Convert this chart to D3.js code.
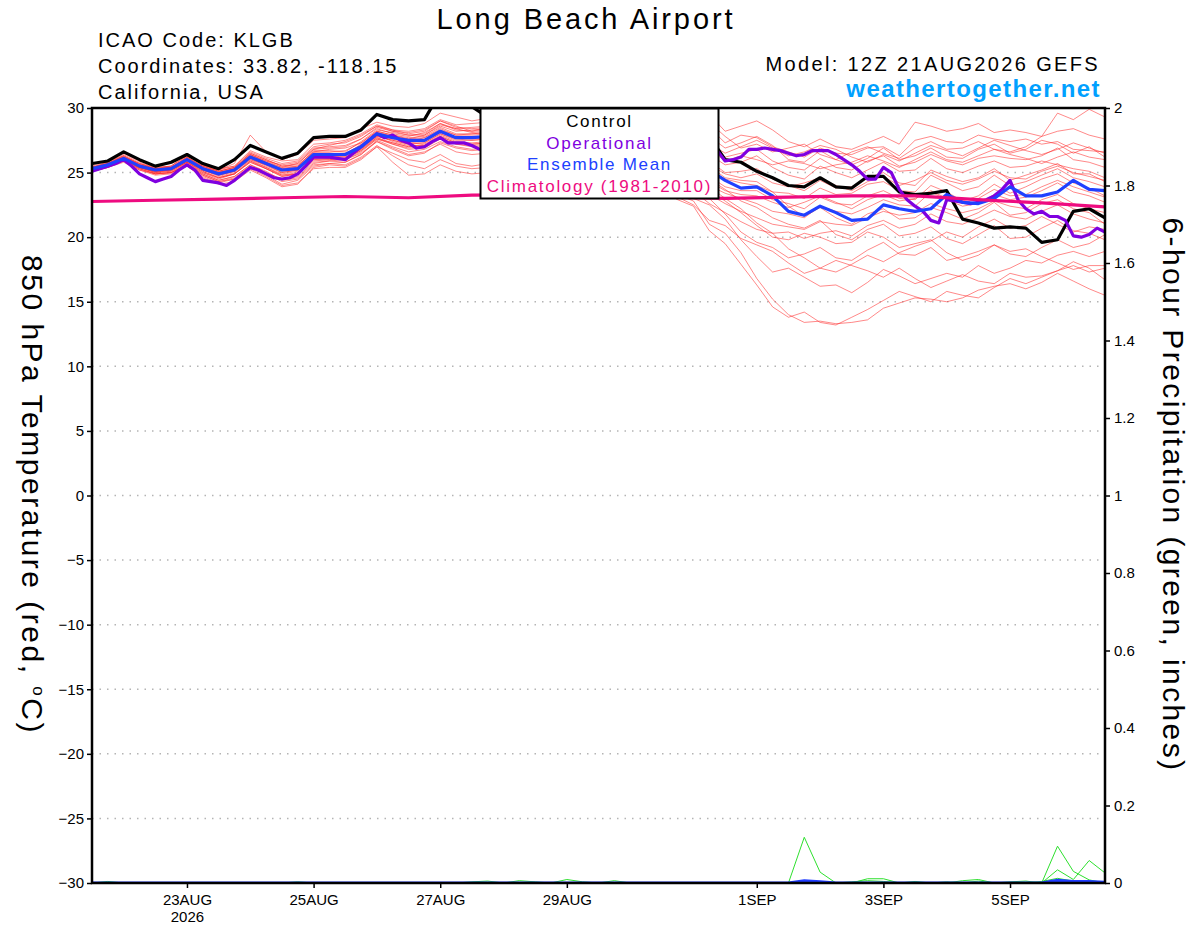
<!DOCTYPE html>
<html>
<head>
<meta charset="utf-8">
<script src="https://d3js.org/d3.v7.min.js"></script>
<style>
  body { margin: 0; background: #fff; }
  svg text { font-family: "Liberation Sans", Arial, Helvetica, sans-serif; }
</style>
</head>
<body>
<svg id="chart" width="1200" height="927"></svg>
<script>
// run start 12Z 21AUG2026, 6-hourly steps out to 384h
var runStart = Date.UTC(2026, 7, 21, 12);
var tickDays = [[2026, 7, 23], [2026, 7, 25], [2026, 7, 27], [2026, 7, 29], [2026, 8, 1], [2026, 8, 3], [2026, 8, 5]];
var tempTicks = [-30, -25, -20, -15, -10, -5, 0, 5, 10, 15, 20, 25, 30];
var precipTicks = [0, 0.2, 0.4, 0.6, 0.8, 1, 1.2, 1.4, 1.6, 1.8, 2];

// control run (black), 6-hourly
var control = [25.7,25.9,26.6,26.0,25.5,25.8,26.4,25.7,25.3,26.0,27.1,26.6,26.1,26.5,27.7,27.8,27.8,28.3,29.5,29.1,29.0,29.1,31.2,31.0,30.1,
  29.3,29.0,28.8,28.5,28.9,28.6,28.3,28.0,28.4,28.1,27.8,27.6,27.9,27.9,
  27.8,26.0,25.8,25.1,24.6,24.0,23.9,24.6,23.9,23.8,24.7,24.7,23.5,23.3,23.4,23.6,21.4,21.1,20.7,20.8,20.7,19.6,19.8,22.0,22.2,21.5];

// ensemble mean (blue), 6-hourly
var ensMean = [25.3,25.6,26.1,25.5,25.2,25.3,26.0,25.3,24.9,25.2,26.2,25.7,25.2,25.3,26.4,26.4,26.4,27.0,28.0,27.7,27.5,27.5,28.2,27.7,27.7,
  27.8,27.9,27.5,27.4,27.8,27.6,27.3,27.2,27.4,26.9,26.5,26.3,26.0,25.6,
  25.2,24.4,23.8,23.9,23.2,22.0,21.7,22.4,21.9,21.3,21.4,22.5,22.2,22.0,22.2,23.3,22.7,22.6,23.0,23.9,23.2,23.2,23.5,24.4,23.7,23.6];

// operational run (purple), 3-hourly
var operational = [25.1,25.3,25.5,25.7,26.0,25.5,24.9,24.6,24.3,24.5,24.7,25.2,25.6,25.2,24.4,24.3,24.2,24.0,24.4,24.9,
  25.4,25.2,24.9,24.6,24.5,24.6,24.9,25.5,26.2,26.2,26.2,26.1,26.0,26.5,27.0,27.5,28.0,27.7,27.9,27.5,
  27.3,26.9,27.0,27.4,27.7,27.3,27.3,27.3,27.1,26.8,
  26.6,26.9,27.2,27.5,27.3,27.0,26.8,27.1,27.4,27.6,27.3,27.0,26.9,27.2,27.5,27.3,27.0,26.8,26.9,27.2,
  27.4,27.1,26.8,26.7,26.9,27.1,27.0,26.8,26.7,26.7,
  25.9,26.0,26.2,26.8,26.8,26.9,26.8,26.7,26.5,26.3,26.4,26.7,26.7,26.7,26.4,26.0,25.6,25.1,24.5,24.5,
  25.4,25.0,23.7,22.9,22.4,
  22.0,21.3,21.1,22.9,22.8,22.7,22.6,22.7,22.9,23.2,23.7,24.4,22.9,22.2,21.8,22.0,21.6,21.6,21.3,20.1,
  20.0,20.2,20.7,20.4];

// 1981-2010 climatology (magenta), daily
var climatology = [22.76,22.86,22.95,23.05,23.15,23.05,23.25,23.3,23.2,23.1,23.0,23.1,23.2,23.2,22.9,22.65,22.35];

// ensemble members (red), 6-hourly
var members = [
  [25.6,25.9,26.5,25.9,25.5,25.7,26.4,25.6,25.2,25.7,27.9,26.6,26.0,26.4,27.5,27.6,27.7,28.4,28.9,28.6,28.5,28.8,29.6,29.3,29.0,
   29.2,29.5,29.0,28.8,29.1,28.9,28.6,28.5,28.8,28.6,28.9,29.2,29.6,29.9,
   29.5,28.2,28.6,29.0,28.3,27.4,27.0,27.6,27.0,26.8,27.3,27.8,27.2,28.9,28.6,28.2,28.4,28.8,28.1,28.3,28.1,27.8,29.6,29.1,29.9,29.3],
  [25.5,25.8,26.3,25.7,25.4,25.5,26.3,25.7,25.3,25.5,26.7,26.2,25.9,26.0,27.2,27.3,27.5,28.0,28.7,28.3,28.2,28.4,29.1,28.7,28.8,
   28.9,29.0,28.6,28.3,28.7,28.5,28.2,28.0,28.4,28.1,28.3,28.5,28.9,28.8,
   28.5,27.3,27.9,27.7,27.0,26.6,26.2,26.9,26.5,26.4,26.9,27.0,26.3,27.5,27.8,27.4,27.3,27.9,27.6,27.4,27.6,27.2,27.4,26.8,26.7,26.6],
  [25.4,25.7,26.2,25.6,25.3,25.4,26.1,25.4,25.0,25.3,26.4,25.9,25.6,25.8,26.9,27.0,27.1,27.6,28.4,28.0,27.8,28.1,28.8,28.4,28.5,
   28.6,28.7,28.3,28.0,28.4,28.2,27.9,27.7,28.0,27.8,27.9,28.1,28.3,28.1,
   27.8,26.9,27.3,27.8,27.1,26.0,25.8,26.7,26.0,25.6,26.1,26.9,26.0,26.3,26.9,26.2,26.1,26.8,27.2,26.5,26.8,27.5,27.2,26.5,27.0,26.2],
  [25.3,25.6,26.0,25.5,25.2,25.3,26.1,25.5,25.1,25.4,26.5,26.0,25.5,25.6,26.6,26.8,26.9,27.3,28.2,27.9,27.6,27.9,28.6,28.2,28.3,
   28.4,28.4,28.0,27.8,28.1,27.9,27.6,27.5,27.7,27.5,27.6,27.8,27.7,27.4,
   27.0,26.2,26.5,26.8,25.9,25.4,25.2,26.1,25.4,25.2,25.9,26.3,25.5,25.8,26.4,25.9,25.6,26.1,26.3,26.1,26.0,26.3,26.9,26.0,25.8,25.4],
  [25.2,25.5,26.1,25.4,25.1,25.2,25.9,25.2,24.8,25.1,26.1,25.6,25.3,25.4,26.5,26.5,26.4,27.2,28.1,27.8,27.4,27.7,28.4,27.9,28.0,
   28.1,28.2,27.8,27.6,27.9,27.7,27.4,27.2,27.4,27.1,27.2,27.3,27.0,26.8,
   26.4,25.6,25.8,26.3,25.4,24.8,24.5,25.5,25.0,24.6,25.2,25.8,25.1,25.2,26.1,25.3,25.0,25.5,25.9,25.4,25.5,25.9,25.6,25.3,25.1,24.6],
  [25.4,25.8,26.4,25.8,25.4,25.5,26.5,25.6,25.1,25.4,26.3,25.8,25.4,25.7,26.8,27.1,27.4,27.9,28.6,28.2,28.1,28.3,29.0,28.6,28.2,
   28.5,28.8,28.4,28.1,28.5,28.3,28.1,27.9,28.3,28.2,28.4,28.8,29.0,29.2,
   28.9,27.8,26.9,27.2,26.6,26.9,27.2,26.4,26.0,26.6,27.0,26.5,26.1,26.9,27.4,26.8,26.9,27.4,26.8,26.6,27.0,27.8,28.2,28.4,27.9,27.6],
  [25.3,25.6,26.2,25.6,25.3,25.4,26.0,25.4,25.0,25.3,26.4,25.9,25.4,25.5,26.7,26.7,26.6,27.4,28.3,28.1,27.9,27.9,28.7,28.4,28.1,
   28.2,28.4,28.0,27.9,28.2,28.0,27.8,27.6,27.9,27.7,27.8,28.0,27.9,27.6,
   27.3,26.5,27.0,27.5,26.9,26.3,26.6,27.1,26.8,26.2,25.8,26.4,25.9,26.5,27.1,26.7,26.3,26.9,27.5,27.1,26.7,26.4,26.8,27.3,26.9,26.5],
  [25.2,25.5,26.0,25.4,25.1,25.2,25.8,25.2,24.9,25.1,26.0,25.6,25.1,25.2,26.3,26.4,26.3,27.0,27.9,27.6,27.3,27.4,28.1,27.7,27.6,
   27.7,27.9,27.6,27.4,27.7,27.5,27.2,27.1,27.3,27.1,27.2,27.4,27.3,27.1,
   26.8,25.9,26.3,26.0,25.6,25.9,25.7,25.3,25.6,25.8,26.3,25.9,25.4,26.0,26.6,26.0,25.8,26.3,26.8,26.4,26.1,25.7,26.2,26.6,26.2,26.0],
  [25.3,25.6,26.1,25.5,25.2,25.3,26.2,25.4,24.9,25.2,26.3,25.7,25.2,25.4,26.5,26.5,26.5,27.1,28.1,27.8,27.6,27.7,28.3,27.9,27.9,
   28.0,28.1,27.7,27.5,27.8,27.6,27.3,27.1,27.2,26.9,26.8,26.9,26.7,26.4,
   25.9,25.0,25.1,25.3,24.5,24.0,23.6,24.4,23.8,23.9,24.6,25.0,24.2,24.0,25.2,24.7,24.3,24.6,25.3,24.4,24.8,25.2,25.7,24.9,24.9,24.3],
  [25.2,25.5,26.0,25.4,25.0,25.1,25.7,25.0,24.5,24.9,25.9,25.4,24.8,25.0,26.2,26.2,26.2,26.8,27.8,27.5,27.2,27.3,28.0,27.5,27.5,
   27.6,27.7,27.3,27.1,27.4,27.2,26.9,26.7,26.8,26.5,26.3,26.2,26.0,25.8,
   25.2,24.5,24.2,24.0,23.5,23.4,23.0,23.8,23.3,23.4,24.1,24.3,23.6,23.5,24.8,24.2,23.6,23.9,24.8,24.0,24.3,24.8,25.3,24.6,24.3,23.9],
  [25.3,25.7,26.2,25.5,25.1,25.2,25.8,25.0,24.6,24.9,25.8,25.3,24.7,24.9,25.9,26.0,26.1,26.7,27.7,27.3,27.0,27.2,27.9,27.4,27.3,
   27.4,27.5,27.1,26.9,27.2,27.0,26.7,26.5,26.5,26.2,25.9,25.7,25.5,25.2,
   24.7,23.9,23.6,23.6,22.9,22.6,22.2,23.1,22.6,22.5,23.2,23.6,23.0,22.9,24.0,23.5,22.8,23.2,24.1,23.4,23.9,24.5,24.9,24.2,23.8,23.2],
  [25.2,25.6,26.0,25.4,25.1,25.3,25.9,25.2,24.7,25.0,26.0,25.4,24.9,25.1,26.1,26.1,26.0,26.6,27.6,27.2,26.8,26.9,27.6,27.2,27.0,
   27.1,27.2,26.8,26.6,26.9,26.7,26.4,26.2,26.2,25.8,25.5,25.2,24.9,24.6,
   24.0,23.4,23.0,22.6,22.0,21.8,21.5,22.4,22.0,21.8,22.3,22.9,22.5,22.4,23.5,22.9,22.4,22.6,23.3,22.9,23.1,23.6,24.2,23.5,23.2,22.7],
  [25.1,25.4,25.9,25.2,24.9,25.0,25.6,24.9,24.4,24.7,25.6,25.0,24.5,24.7,25.8,25.9,25.8,26.4,27.5,27.0,26.6,26.8,27.4,27.0,26.8,
   26.9,27.0,26.6,26.4,26.6,26.4,26.1,25.9,25.8,25.4,25.0,24.6,24.2,23.8,
   23.3,22.6,22.0,21.5,21.0,20.8,20.6,21.2,21.0,20.9,21.5,22.0,21.7,21.9,22.6,22.2,21.9,22.2,22.8,22.4,22.2,22.9,23.3,22.6,22.2,21.9],
  [25.3,25.6,26.1,25.6,25.3,25.4,26.1,25.3,24.8,25.1,26.2,25.6,25.0,25.2,26.4,26.3,26.2,26.9,27.9,27.4,27.1,27.1,27.8,27.3,27.2,
   27.3,27.3,26.9,26.7,27.0,26.8,26.4,26.2,26.1,25.7,25.3,24.9,24.3,23.6,
   22.6,21.9,21.2,20.6,20.3,20.4,19.9,20.3,20.5,20.1,20.9,21.3,20.7,21.0,21.8,21.2,21.0,21.5,22.1,21.6,21.4,22.0,22.5,21.8,21.4,21.1],
  [25.4,25.7,26.3,25.7,25.3,25.4,26.2,25.5,25.0,25.3,26.4,25.8,25.3,25.5,26.6,26.6,26.7,27.3,28.2,27.9,27.7,27.8,28.5,28.0,28.0,
   28.1,28.2,27.9,27.7,27.9,27.7,27.4,27.2,27.3,27.0,26.9,26.8,26.5,26.2,
   25.6,24.9,24.6,24.9,24.2,23.9,24.2,24.6,24.0,23.6,24.3,24.7,24.0,24.4,25.0,24.4,24.1,24.5,25.1,24.6,24.5,25.1,25.5,25.0,24.7,24.4],
  [25.2,25.5,26.0,25.3,24.9,25.0,25.6,24.8,24.3,24.6,25.5,24.9,24.3,24.5,25.6,25.7,25.8,26.4,27.4,26.8,26.3,26.5,27.3,26.9,26.7,
   26.8,26.9,26.5,26.3,26.5,26.3,26.0,25.8,25.7,25.3,24.9,24.7,24.6,24.6,
   24.3,23.6,23.3,23.2,22.7,22.3,22.7,23.2,22.7,22.2,22.9,23.3,22.8,23.0,23.6,23.0,22.6,23.0,23.7,23.2,23.3,23.9,24.4,23.9,23.5,23.1],
  [25.1,25.4,25.8,25.2,24.8,24.9,25.5,24.6,24.1,24.3,25.2,24.6,23.9,24.1,25.4,25.6,25.5,26.1,27.0,25.8,24.8,24.9,25.6,25.1,24.9,
   25.0,25.6,25.9,26.1,26.3,26.1,25.8,25.6,25.5,25.1,24.6,24.0,23.3,22.8,
   21.0,20.3,18.8,16.8,15.2,14.0,13.4,13.5,13.3,13.4,13.6,14.5,14.9,15.3,15.2,15.0,15.3,15.9,16.2,16.4,16.0,16.5,17.2,16.6,16.0,15.5],
  [25.2,25.5,25.9,25.3,24.9,25.0,25.5,24.7,24.2,24.5,25.4,24.8,24.1,24.4,25.5,25.7,25.6,26.2,27.1,26.3,25.6,25.3,26.0,25.5,25.3,
   25.4,25.8,26.0,26.2,26.4,26.2,25.9,25.7,25.5,25.0,24.4,23.6,22.9,22.4,
   20.5,19.5,17.9,16.3,14.6,13.8,14.2,13.4,13.2,13.8,14.4,15.1,15.8,15.4,15.0,15.8,15.5,15.3,16.1,16.8,16.4,16.9,17.4,17.8,17.3,17.6],
  [25.3,25.6,26.0,25.4,25.0,25.1,25.7,24.9,24.4,24.7,25.6,25.1,24.4,24.6,25.7,25.9,26.0,26.5,27.4,26.9,26.4,26.6,27.2,26.6,26.4,
   26.5,26.6,26.4,26.3,26.5,26.3,25.9,25.7,25.6,25.2,24.7,24.1,23.5,23.0,
   22.5,21.4,19.8,18.5,17.3,17.6,16.9,16.2,16.3,15.7,16.5,17.5,17.0,16.4,16.8,17.2,16.9,17.8,17.2,17.6,18.2,18.0,18.6,18.9,18.5,18.9],
  [25.2,25.5,26.0,25.4,25.0,25.2,25.8,25.1,24.6,24.9,25.8,25.3,24.7,24.9,26.0,26.1,26.1,26.8,27.7,27.2,26.9,27.0,27.7,27.2,27.1,
   27.2,27.2,26.8,26.6,26.8,26.6,26.2,26.0,25.9,25.5,25.0,24.5,23.9,23.4,
   23.0,21.8,20.4,19.6,19.2,18.4,18.7,19.2,18.4,18.2,19.0,19.6,18.7,18.6,19.2,18.2,18.5,18.9,19.4,18.7,18.5,19.2,19.8,19.2,19.5,20.2],
  [25.4,25.7,26.3,25.6,25.2,25.4,26.2,25.5,25.1,25.4,26.5,26.0,25.5,25.7,26.8,26.9,27.0,27.6,28.5,28.2,27.9,28.0,28.8,28.3,28.2,
   28.3,28.3,27.9,27.6,27.8,27.5,27.1,26.9,26.8,26.4,25.9,25.4,24.8,24.2,
   23.6,22.8,21.9,20.9,20.0,19.8,20.3,20.0,19.5,19.6,20.4,20.0,19.2,19.5,19.8,18.8,18.2,18.6,19.4,18.9,19.1,18.5,18.0,17.5,17.8,17.8],
  [25.1,25.4,25.9,25.3,24.9,25.0,25.6,24.8,24.3,24.5,25.3,24.7,24.0,24.2,25.3,25.4,25.4,26.0,27.0,26.5,26.0,25.8,26.4,25.7,25.5,
   25.7,26.0,26.1,26.2,26.4,26.2,25.8,25.5,25.3,24.8,24.2,23.5,23.1,22.5,
   21.3,20.9,19.9,19.4,18.9,18.0,17.2,17.6,18.2,17.8,17.4,16.9,17.6,16.8,16.1,16.6,17.1,16.6,16.4,17.2,16.9,17.0,17.4,18.1,17.6,16.7],
  [25.3,25.6,26.1,25.5,25.2,25.3,25.9,25.2,24.8,25.1,26.1,25.5,25.0,25.2,26.3,26.3,26.3,26.9,27.8,27.5,27.2,27.3,28.0,27.6,27.5,
   27.6,27.6,27.2,27.0,27.2,27.0,26.6,26.4,26.4,26.0,25.7,25.5,25.2,24.9,
   24.5,23.7,22.8,22.3,21.5,21.0,20.7,21.3,20.2,19.8,20.6,21.0,20.1,20.3,20.8,19.9,19.5,20.2,20.9,19.9,20.0,20.7,21.3,20.5,20.3,19.8],
  [25.2,25.5,26.0,25.4,25.1,25.2,25.8,25.1,24.6,24.9,25.9,25.3,24.8,24.9,26.0,26.0,26.1,26.7,27.6,27.3,27.0,27.1,27.8,27.3,27.2,
   27.3,27.4,27.0,26.8,27.0,26.8,26.5,26.3,26.2,25.8,25.4,25.0,24.6,24.3,
   23.9,23.0,22.2,21.1,20.3,19.1,18.4,17.6,17.3,17.9,18.6,18.1,18.8,19.3,19.7,20.4,20.0,20.8,21.4,20.7,20.9,21.6,21.0,20.4,20.8,20.6],
  [25.4,25.7,26.2,25.7,25.3,25.5,26.3,25.6,25.2,25.5,26.6,26.1,25.7,25.9,27.0,27.2,27.3,27.8,28.6,28.3,28.0,28.2,29.0,28.5,28.4,
   28.5,28.6,28.2,27.9,28.2,28.0,27.7,27.5,27.6,27.3,27.1,26.9,26.6,26.2,
   25.5,24.6,24.4,24.3,23.5,22.4,21.6,22.3,21.5,21.0,21.8,22.2,21.4,21.5,22.3,21.9,21.4,21.9,22.7,21.7,21.9,22.6,22.9,22.2,21.9,21.0]
];

// 6-hour precipitation (inches): members with any rain (green) and the ensemble mean (blue)
var precipMembers = [
  [0,0,0,0,0,0,0,0,0,0,0,0,0, 0,0,0,0,0,0,0,0,0,0,0,0,0, 0,0,0,0,0,0,0,0,0,0,0,0,0,
   0,0,0,0,0,0,0.118,0.028,0,0,0.011,0.011,0, 0,0,0,0,0,0,0,0,0,0.095,0.03,0.008,0],
  [0,0,0,0,0,0,0,0,0,0,0,0,0, 0,0,0,0,0,0,0,0,0,0,0,0,0, 0,0.006,0.003,0,0,0,0,0,0,0,0,0,0,
   0,0,0,0,0,0,0,0,0,0,0,0,0, 0,0,0,0.006,0.009,0,0,0,0,0.034,0.009,0.058,0.026],
  [0,0.004,0,0,0,0,0,0,0,0,0,0,0, 0.003,0,0,0,0,0,0,0,0,0,0,0,0, 0,0,0,0,0.009,0.003,0,0.006,0,0,0,0,0,
   0,0,0,0,0,0,0,0,0,0,0,0,0, 0.004,0,0,0,0,0,0.003,0.005,0,0,0.004,0,0],
  [0,0,0,0,0,0,0,0,0,0,0,0,0, 0,0,0,0,0,0,0,0,0,0,0,0.003,0.005, 0,0,0,0,0,0,0,0,0,0,0,0,0,
   0,0,0,0,0,0,0,0,0,0.003,0.006,0.004,0, 0,0,0.003,0,0.005,0,0,0,0.004,0.012,0.005,0,0]
];
var precipMean = [0,0,0,0,0,0,0,0,0,0,0,0,0, 0,0,0,0,0,0,0,0,0,0,0,0,0, 0,0,0,0,0,0,0,0,0,0,0,0,0,
  0,0,0,0,0,0,0.006,0.003,0,0,0,0,0, 0,0,0,0,0,0,0,0,0,0.007,0.004,0.004,0.002];

var HOUR = 3600 * 1000;
var svg = d3.select("#chart");
var plotL = 92, plotR = 1105, plotT = 108, plotB = 883;

var x = d3.scaleUtc()
    .domain([new Date(runStart), new Date(runStart + 384 * HOUR)])
    .range([plotL, plotR]);
var y = d3.scaleLinear().domain([-30, 30]).range([plotB, plotT]);
var yP = d3.scaleLinear().domain([0, 2]).range([plotB, plotT]);

function lineEvery(hours, scale) {
    return d3.line()
        .x((d, i) => x(new Date(runStart + i * hours * HOUR)))
        .y(d => scale(d));
}

svg.append("defs").append("clipPath").attr("id", "plot")
    .append("rect").attr("x", plotL).attr("y", plotT)
    .attr("width", plotR - plotL).attr("height", plotB - plotT);

// dotted grid at the temperature ticks
svg.append("g").selectAll("line")
    .data(tempTicks.filter(d => d > -30 && d < 30))
    .enter().append("line")
    .attr("x1", plotL).attr("x2", plotR)
    .attr("y1", d => y(d)).attr("y2", d => y(d))
    .attr("stroke", "#b4b4b4").attr("stroke-width", 1.5)
    .attr("stroke-dasharray", "1.5,6");

var plot = svg.append("g").attr("clip-path", "url(#plot)");

plot.selectAll(".member")
    .data(members).enter().append("path")
    .attr("class", "member")
    .attr("d", lineEvery(6, y))
    .attr("fill", "none").attr("stroke", "#ff2a2a")
    .attr("stroke-opacity", 0.62).attr("stroke-width", 0.9);

plot.selectAll(".pmember")
    .data(precipMembers).enter().append("path")
    .attr("class", "pmember")
    .attr("d", lineEvery(6, yP))
    .attr("fill", "none").attr("stroke", "#2ee02e").attr("stroke-width", 1);

plot.append("path").attr("d", lineEvery(6, yP)(precipMean))
    .attr("fill", "none").attr("stroke", "#1f3cff").attr("stroke-width", 3);

plot.append("path").attr("d", lineEvery(6, y)(control))
    .attr("fill", "none").attr("stroke", "#000").attr("stroke-width", 3.2)
    .attr("stroke-linejoin", "round");

plot.append("path").attr("d", lineEvery(3, y)(operational))
    .attr("fill", "none").attr("stroke", "#7f00e0").attr("stroke-width", 3.2)
    .attr("stroke-linejoin", "round");

plot.append("path").attr("d", lineEvery(6, y)(ensMean))
    .attr("fill", "none").attr("stroke", "#2040ff").attr("stroke-width", 3.2)
    .attr("stroke-linejoin", "round");

plot.append("path").attr("d", lineEvery(24, y)(climatology))
    .attr("fill", "none").attr("stroke", "#ee0b80").attr("stroke-width", 3.2);

// axes
var yAxis = d3.axisLeft(y).tickValues(tempTicks).tickSize(5).tickPadding(3);
var gl = svg.append("g").attr("transform", `translate(${plotL},0)`).call(yAxis);

var yAxisR = d3.axisRight(yP).tickValues(precipTicks).tickSize(5).tickPadding(4)
    .tickFormat(d => String(+d.toFixed(1)));
var gr = svg.append("g").attr("transform", `translate(${plotR},0)`).call(yAxisR);

var xAxis = d3.axisBottom(x)
    .tickValues(tickDays.map(d => new Date(Date.UTC(d[0], d[1], d[2]))))
    .tickSize(5).tickPadding(6)
    .tickFormat(d => d3.utcFormat("%-d%b")(d).toUpperCase());
var gb = svg.append("g").attr("transform", `translate(0,${plotB})`).call(xAxis);

[gl, gr, gb].forEach(function (g) {
    g.select(".domain").remove();
    g.selectAll(".tick line").attr("stroke", "#000").attr("stroke-width", 1.5);
    g.selectAll(".tick text").attr("fill", "#000")
        .style("font-size", "15px")
        .style("font-family", "'Liberation Sans', Arial, sans-serif");
});
gb.select(".tick text").append("tspan").attr("x", 0).attr("dy", "1.15em").text("2026");

// frame
svg.append("rect").attr("x", plotL).attr("y", plotT)
    .attr("width", plotR - plotL).attr("height", plotB - plotT)
    .attr("fill", "none").attr("stroke", "#000").attr("stroke-width", 2.5);

// legend
var legend = svg.append("g");
legend.append("rect").attr("x", 480.5).attr("y", 108.5).attr("width", 238).attr("height", 90)
    .attr("fill", "#fff").attr("stroke", "#000").attr("stroke-width", 2);
var legendItems = [["Control", "#000"], ["Operational", "#7f00e0"], ["Ensemble Mean", "#2040ff"], ["Climatology (1981-2010)", "#ee0b80"]];
legend.selectAll("text").data(legendItems).enter().append("text")
    .attr("x", 599.5).attr("y", (d, i) => 127 + i * 21.7)
    .attr("text-anchor", "middle").attr("fill", d => d[1])
    .style("font-size", "17px").style("letter-spacing", "1.7px").text(d => d[0]);

// titles
svg.append("text").attr("x", 586).attr("y", 29).attr("text-anchor", "middle")
    .style("font-size", "29px").style("letter-spacing", "2.9px").text("Long Beach Airport");
var info = ["ICAO Code: KLGB", "Coordinates: 33.82, -118.15", "California, USA"];
svg.selectAll(".info").data(info).enter().append("text")
    .attr("class", "info").attr("x", 98).attr("y", (d, i) => 47 + i * 26)
    .style("font-size", "20px").style("letter-spacing", "2px").text(d => d);
svg.append("text").attr("x", 1100).attr("y", 71).attr("text-anchor", "end")
    .style("font-size", "20px").style("letter-spacing", "2.35px").text("Model: 12Z 21AUG2026 GEFS");
svg.append("text").attr("x", 1101).attr("y", 97).attr("text-anchor", "end")
    .attr("fill", "#00a0ff").style("font-size", "24px").style("font-weight", "bold")
    .style("letter-spacing", "1.4px").text("weathertogether.net");

var ylab = svg.append("text").attr("transform", "translate(22,495) rotate(90)")
    .attr("text-anchor", "middle").style("font-size", "30px").style("letter-spacing", "2.5px");
ylab.append("tspan").text("850 hPa Temperature (red, ");
ylab.append("tspan").attr("dy", -11).style("font-size", "17px").text("o");
ylab.append("tspan").attr("dy", 11).text("C)");

svg.append("text").attr("transform", "translate(1163,495) rotate(90)")
    .attr("text-anchor", "middle").style("font-size", "30px").style("letter-spacing", "2.4px")
    .text("6-hour Precipitation (green, inches)");
</script>
</body>
</html>
